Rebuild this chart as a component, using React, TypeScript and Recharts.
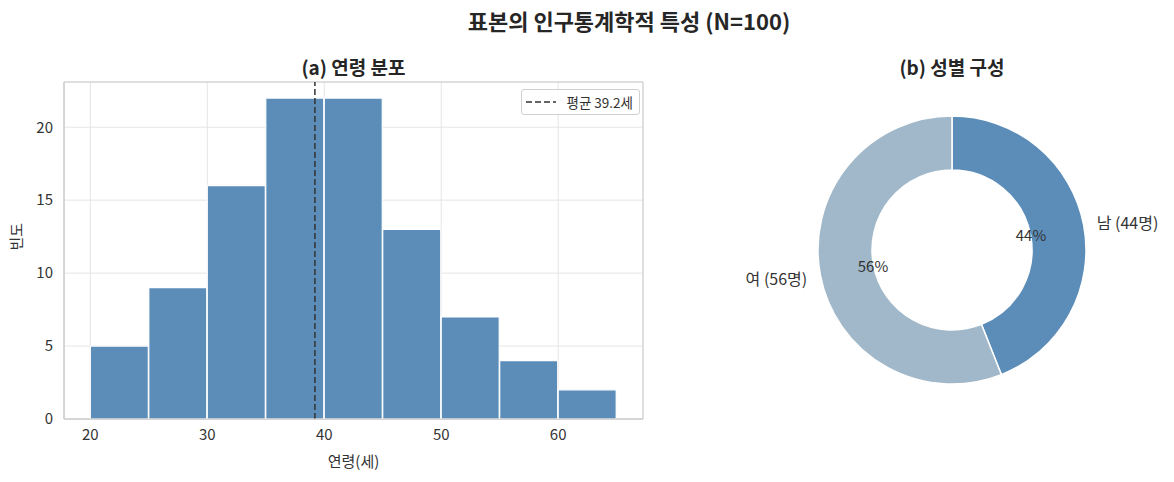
import React from "react";
import {
  ComposedChart,
  Bar,
  XAxis,
  YAxis,
  CartesianGrid,
  ReferenceLine,
  ReferenceArea,
  PieChart,
  Pie,
  Cell,
} from "recharts";

const binStarts = [20, 25, 30, 35, 40, 45, 50, 55, 60];
const binWidth = 5;
const counts = [5, 9, 16, 22, 22, 13, 7, 4, 2];
const meanAge = 39.2;
const xTicks = [20, 30, 40, 50, 60];
const yTicks = [0, 5, 10, 15, 20];

const genderNames = ["남", "여"];
const genderCounts = [44, 56];
const genderColors = ["#5b8db8", "#a0b8c9"];

const histData = binStarts.map((s, i) => ({ mid: s + binWidth / 2, count: counts[i] }));
const pieData = genderNames.map((n, i) => ({ name: n, value: genderCounts[i] }));

const FONT = "'Noto Sans CJK KR', 'Noto Sans', sans-serif";
const RAD = Math.PI / 180;

const span = binStarts[binStarts.length - 1] + binWidth - binStarts[0];
const xMin = binStarts[0] - 0.05 * span;
const xMax = binStarts[binStarts.length - 1] + binWidth + 0.05 * span;
const yMax = Math.max(...counts) * 1.05;

const renderPieLabel = (props: any) => {
  const { cx, cy, midAngle, outerRadius, percent, name, value } = props;
  const r1 = outerRadius * 1.1;
  const r2 = outerRadius * 0.6;
  const c = Math.cos(-midAngle * RAD);
  const s = Math.sin(-midAngle * RAD);
  const x1 = cx + r1 * c;
  const y1 = cy + r1 * s;
  const x2 = cx + r2 * c;
  const y2 = cy + r2 * s;
  return (
    <g>
      <text
        x={x1}
        y={y1}
        textAnchor={x1 > cx ? "start" : "end"}
        dominantBaseline="central"
        fontSize={16}
        fill="#333"
        fontFamily={FONT}
      >
        {`${name} (${value}명)`}
      </text>
      <text
        x={x2}
        y={y2}
        textAnchor="middle"
        dominantBaseline="central"
        fontSize={15}
        fill="#333"
        fontFamily={FONT}
      >
        {`${Math.round(percent * 100)}%`}
      </text>
    </g>
  );
};

export default function App() {
  return (
    <div
      style={{
        position: "absolute",
        left: 0,
        top: 0,
        width: 1174,
        height: 482,
        background: "#fff",
        fontFamily: FONT,
        color: "#262626",
      }}
    >
      <div
        style={{
          position: "absolute",
          left: 329,
          width: 600,
          top: 5,
          textAlign: "center",
          fontSize: 22,
          fontWeight: 700,
          lineHeight: "30px",
        }}
      >
        표본의 인구통계학적 특성 (N=100)
      </div>
      <div
        style={{
          position: "absolute",
          left: 64,
          width: 579,
          top: 53,
          textAlign: "center",
          fontSize: 19,
          fontWeight: 700,
          lineHeight: "28px",
        }}
      >
        (a) 연령 분포
      </div>
      <div
        style={{
          position: "absolute",
          left: 752,
          width: 400,
          top: 53,
          textAlign: "center",
          fontSize: 19,
          fontWeight: 700,
          lineHeight: "28px",
        }}
      >
        (b) 성별 구성
      </div>

      <div style={{ position: "absolute", left: 0, top: 0 }}>
        <ComposedChart
          width={660}
          height={482}
          data={histData}
          margin={{ top: 82, right: 17, bottom: 33, left: 14 }}
          barCategoryGap={0}
          barGap={0}
        >
          <CartesianGrid stroke="#e5e5e5" strokeWidth={1} />
          <XAxis
            dataKey="mid"
            type="number"
            domain={[xMin, xMax]}
            ticks={xTicks}
            allowDataOverflow
            tickLine={false}
            axisLine={{ stroke: "#ccc" }}
            tickMargin={4}
            height={30}
            tick={{ fontSize: 15, fill: "#333", fontFamily: FONT }}
            label={{
              value: "연령(세)",
              position: "insideBottom",
              offset: -18,
              fontSize: 15,
              fill: "#333",
              fontFamily: FONT,
            }}
          />
          <YAxis
            type="number"
            domain={[0, yMax]}
            ticks={yTicks}
            allowDataOverflow
            tickLine={false}
            axisLine={{ stroke: "#ccc" }}
            tickMargin={5}
            width={50}
            tick={{ fontSize: 15, fill: "#333", fontFamily: FONT }}
            label={{
              value: "빈도",
              angle: -90,
              position: "insideLeft",
              offset: 3,
              fontSize: 15,
              fill: "#333",
              fontFamily: FONT,
            }}
          />
          <Bar
            dataKey="count"
            fill="#5b8db8"
            stroke="#fff"
            strokeWidth={1.2}
            isAnimationActive={false}
          />
          <ReferenceLine
            x={meanAge}
            stroke="#333"
            strokeWidth={1.5}
            strokeDasharray="6 3"
          />
          <ReferenceArea
            x1={xMin}
            x2={xMax}
            y1={0}
            y2={yMax}
            fill="none"
            stroke="#ccc"
            strokeWidth={1}
          />
        </ComposedChart>
      </div>

      <div
        style={{
          position: "absolute",
          right: 1174 - 640,
          top: 89,
          height: 24,
          paddingRight: 6,
          border: "1px solid #d0d0d0",
          borderRadius: 3,
          background: "rgba(255,255,255,0.85)",
          display: "flex",
          alignItems: "center",
          fontSize: 13.5,
          color: "#333",
          whiteSpace: "nowrap",
        }}
      >
        <svg width={40} height={10} style={{ marginLeft: 4 }}>
          <line x1={0} y1={5} x2={30} y2={5} stroke="#333" strokeWidth={1.5} strokeDasharray="6 3" />
        </svg>
        <span>평균 39.2세</span>
      </div>

      <div style={{ position: "absolute", left: 660, top: 0 }}>
        <PieChart width={514} height={482} margin={{ top: 0, right: 0, bottom: 0, left: 0 }}>
          <Pie
            data={pieData}
            dataKey="value"
            nameKey="name"
            cx={292}
            cy={250}
            outerRadius={134}
            innerRadius={80}
            startAngle={90}
            endAngle={-270}
            stroke="#fff"
            strokeWidth={1.5}
            label={renderPieLabel}
            labelLine={false}
            isAnimationActive={false}
          >
            {pieData.map((d, i) => (
              <Cell key={d.name} fill={genderColors[i]} />
            ))}
          </Pie>
        </PieChart>
      </div>
    </div>
  );
}
